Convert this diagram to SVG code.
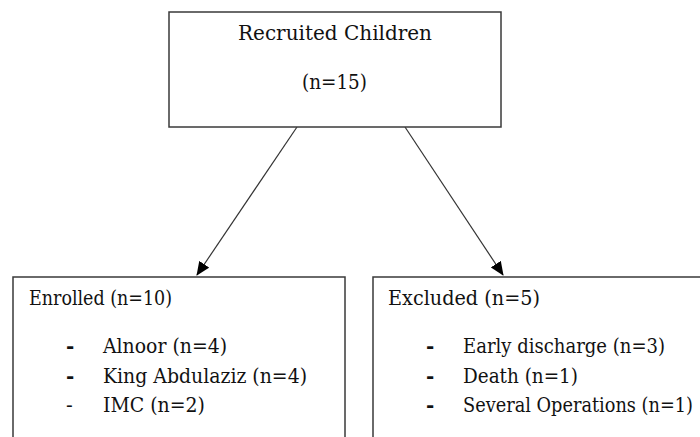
<svg xmlns="http://www.w3.org/2000/svg" width="700" height="437" viewBox="0 0 700 437">
  <style>
    .box { fill: #ffffff; stroke: #3a3a3a; stroke-width: 1.5; }
    text { font-family: 'DejaVu Serif', 'Liberation Serif', serif; font-size: 20px; fill: #111111; }
    .dash { font-weight: bold; }
    .link { stroke: #333333; stroke-width: 1.2; fill: none; marker-end: url(#arrow); }
  </style>
  <defs>
    <marker id="arrow" markerWidth="14" markerHeight="12" refX="13" refY="6" orient="auto" markerUnits="userSpaceOnUse">
      <path d="M0,0 L14,6 L0,12 Z" fill="#000000"/>
    </marker>
  </defs>

  <rect width="700" height="437" fill="#ffffff"/>

  <!-- arrows from the top box down to the two outcome boxes -->
  <g id="connectors">
    <line class="link" x1="297" y1="127" x2="197" y2="275"/>
    <line class="link" x1="405" y1="127" x2="503" y2="275"/>
  </g>

  <g id="recruited">
    <rect class="box" x="169" y="12" width="332" height="115"/>
    <text x="238" y="40" textLength="194" lengthAdjust="spacingAndGlyphs">Recruited Children</text>
    <text x="302" y="89" textLength="65" lengthAdjust="spacingAndGlyphs">(n=15)</text>
  </g>

  <g id="enrolled">
    <rect class="box" x="13" y="277" width="332" height="170"/>
    <text x="29" y="305" textLength="143" lengthAdjust="spacingAndGlyphs">Enrolled (n=10)</text>
    <text class="dash" x="66" y="353">-</text>
    <text x="103" y="353" textLength="124" lengthAdjust="spacingAndGlyphs">Alnoor (n=4)</text>
    <text class="dash" x="66" y="383">-</text>
    <text x="103" y="383" textLength="204" lengthAdjust="spacingAndGlyphs">King Abdulaziz (n=4)</text>
    <text x="66" y="412">-</text>
    <text x="103" y="412" textLength="102" lengthAdjust="spacingAndGlyphs">IMC (n=2)</text>
  </g>

  <g id="excluded">
    <rect class="box" x="373" y="277" width="340" height="170"/>
    <text x="388" y="305" textLength="152" lengthAdjust="spacingAndGlyphs">Excluded (n=5)</text>
    <text class="dash" x="426" y="353">-</text>
    <text x="463" y="353" textLength="202" lengthAdjust="spacingAndGlyphs">Early discharge (n=3)</text>
    <text class="dash" x="426" y="383">-</text>
    <text x="463" y="383" textLength="115" lengthAdjust="spacingAndGlyphs">Death (n=1)</text>
    <text class="dash" x="426" y="412">-</text>
    <text x="463" y="412" textLength="230" lengthAdjust="spacingAndGlyphs">Several Operations (n=1)</text>
  </g>
</svg>
